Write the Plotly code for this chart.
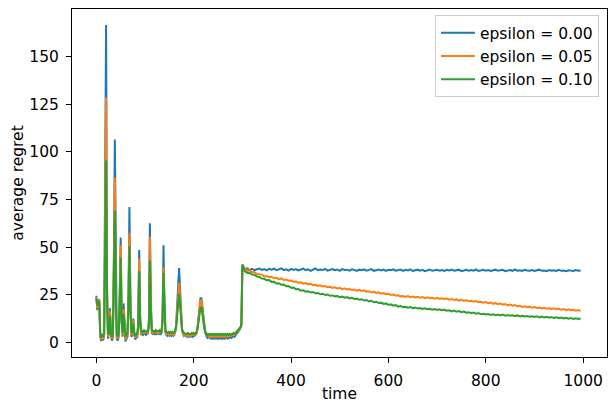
import plotly.graph_objects as go

# time steps: every 2 steps up to 298, then every 5 steps
time = list(range(0, 300, 2)) + list(range(300, 1000, 5))

eps_000_early = [
    24.5, 17.0, 22.0, 22.5, 3.0, 0.8, 2.0, 1.2, 3.5, 70, 166.5, 30, 2.0, 5.0, 18.0, 4.0, 1.0, 2.5, 40, 106.5,
    28, 2.0, 1.0, 3.0, 25, 55, 12, 3.0, 20.5, 5.0, 0.5, 2.0, 3.0, 25, 71, 22, 3.0, 4.0, 12.5, 4.0,
    1.5, 3.0, 2.5, 10, 48.5, 14, 4.0, 4.5, 4.0, 5.0, 4.5, 4.0, 5.0, 4.5, 12, 62.5, 22, 5.0, 4.5, 5.0,
    4.0, 5.5, 4.5, 5.0, 4.5, 5.0, 4.0, 5.0, 14, 51, 18, 5.0, 4.0, 3.5, 4.0, 3.5, 4.0, 3.5, 4.0, 3.5,
    4.0, 5.5, 10, 20, 34, 39, 28, 14, 7, 4.5, 3.5, 4.0, 3.5, 3.0, 3.5, 3.0, 3.5, 3.0, 3.5, 3.0,
    3.5, 3.5, 4.0, 5.0, 8.0, 14, 20, 23.5, 23, 18, 12, 7.5, 5.0, 3.5, 2.5, 3.0, 2.5, 3.0, 2.0, 2.5,
    2.0, 2.5, 2.0, 2.5, 2.0, 3.0, 2.0, 2.5, 2.0, 3.0, 2.0, 2.5, 2.0, 3.0, 2.5, 2.0, 3.0, 2.5, 3.0, 2.5,
    3.0, 3.5, 3.0, 4.0, 4.5, 5.0, 5.5, 6.5, 7.5, 9.0,
]
eps_005_early = [
    24.0, 18.0, 21.5, 22.0, 4.0, 1.5, 3.0, 2.0, 4.0, 58, 128.5, 25, 3.0, 5.5, 16.5, 5.0, 2.0, 3.5, 34, 86.5,
    24, 3.0, 2.0, 4.0, 23, 51, 11, 4.0, 17.5, 5.5, 1.5, 3.0, 4.0, 21, 57.5, 19, 4.0, 4.5, 11.5, 4.5,
    2.5, 3.5, 3.5, 9, 44, 12.5, 4.5, 5.0, 5.0, 5.5, 5.0, 5.0, 5.5, 5.0, 11, 55.5, 19, 5.5, 5.0, 5.5,
    5.0, 5.5, 5.0, 5.5, 5.0, 5.5, 5.0, 5.5, 12, 39.5, 15, 5.5, 4.5, 4.5, 4.5, 4.0, 4.5, 4.5, 4.5, 4.0,
    4.5, 5.5, 9, 17, 27, 31, 23, 12, 7, 5.0, 4.0, 4.5, 4.0, 3.5, 4.0, 3.5, 4.0, 3.5, 4.0, 4.0,
    4.0, 4.0, 4.5, 5.0, 8.0, 13, 19, 22.5, 22, 17, 11.5, 7.5, 5.5, 4.0, 3.5, 3.5, 3.0, 3.5, 3.0, 3.5,
    3.0, 3.5, 3.0, 3.5, 3.0, 3.5, 3.0, 3.5, 3.0, 3.5, 3.0, 3.5, 3.0, 3.5, 3.5, 3.0, 3.5, 3.5, 3.5, 3.5,
    4.0, 4.0, 4.0, 4.5, 5.0, 5.5, 6.0, 7.0, 8.0, 9.5,
]
eps_010_early = [
    23.0, 19.5, 21.0, 21.5, 5.0, 2.5, 4.0, 3.5, 5.0, 45, 95.5, 21, 4.0, 6.0, 14.0, 5.5, 3.0, 4.5, 28, 69,
    20, 4.0, 3.0, 5.0, 20, 44.5, 10, 5.0, 15.0, 6.0, 3.0, 4.0, 5.0, 18, 50.5, 17, 5.0, 5.5, 10.0, 5.0,
    3.5, 4.5, 4.5, 8, 37.5, 11, 5.5, 6.0, 5.5, 6.5, 6.0, 5.5, 6.0, 6.0, 9, 43, 16, 6.5, 6.0, 6.0,
    5.5, 6.5, 6.0, 6.0, 6.0, 6.5, 5.5, 6.0, 11, 36.5, 14, 6.0, 5.5, 5.0, 5.5, 5.0, 5.5, 5.0, 5.5, 5.0,
    5.5, 6.0, 8, 14.5, 22, 25.5, 19, 11, 7, 5.5, 5.0, 5.0, 4.5, 4.5, 5.0, 4.5, 4.5, 4.5, 5.0, 4.5,
    5.0, 4.5, 5.0, 5.5, 7.5, 11, 15.5, 18, 18.5, 14.5, 10, 7.0, 5.5, 4.5, 4.0, 4.5, 4.0, 4.5, 4.0, 4.5,
    4.0, 4.5, 4.0, 4.5, 4.0, 4.5, 4.0, 4.5, 4.0, 4.5, 4.0, 4.5, 4.0, 4.5, 4.0, 4.5, 4.0, 4.5, 4.0, 4.5,
    4.5, 5.0, 4.5, 5.0, 5.5, 6.0, 6.5, 7.0, 8.0, 9.5,
]

eps_000_late = [
    40.8, 38.5, 38.9, 38.0, 38.6, 37.9, 38.4, 38.8, 38.1, 38.5,
    37.8, 38.6, 38.2, 38.7, 37.9, 38.3, 38.9, 38.0, 38.4, 37.7, 38.6, 38.1, 38.5, 37.8, 38.3,
    38.7, 38.0, 38.4, 37.6, 38.2, 38.8, 37.9, 38.3, 38.0, 38.6, 37.7, 38.2, 38.5, 37.9,
    38.3, 37.6, 38.5, 38.0, 38.2, 37.7, 38.4, 38.1, 37.5, 38.2,
    37.9, 38.4, 37.7, 38.1, 38.5, 37.6, 38.0, 38.3, 37.8, 38.2, 37.5, 38.1, 37.9, 38.4, 37.7, 38.0, 38.3, 37.6,
    38.1, 37.8, 38.4, 37.5, 38.0, 38.2, 37.7, 38.1, 37.4, 38.0, 38.3, 37.6, 37.9, 38.2, 37.7, 38.0, 37.5,
    38.1, 37.8, 38.3, 37.6, 37.9, 38.2, 37.4, 37.9, 38.1, 37.6, 38.0, 37.7, 38.3, 37.5, 37.9, 38.1, 37.6,
    38.0, 37.5, 37.9, 38.2, 37.6, 37.8, 38.1, 37.4, 37.9, 38.0, 37.6, 38.3, 37.7, 37.9, 37.5, 38.1, 37.8, 37.6,
    38.0, 37.5, 37.9, 38.2, 37.6, 37.8, 37.4, 38.0, 37.7, 37.9, 37.5, 38.1, 37.6, 37.8, 37.4, 37.9, 37.7, 37.5,
    38.0, 37.6, 37.7,
]
eps_005_late = [
    40.8, 38.6, 37.7, 37.8, 36.8, 36.9, 35.9, 35.9, 35.6, 34.6,
    34.9, 34.2, 34.5, 33.7, 33.9, 33.2, 33.6, 32.8, 33.0, 32.4, 32.5, 31.9, 32.0, 31.3, 31.6,
    30.9, 31.2, 30.5, 30.8, 30.1, 30.3, 29.7, 30.0, 29.4, 29.6, 29.0, 29.2, 28.6, 28.9,
    28.4, 28.7, 28.0, 28.4, 27.8, 28.1, 27.5, 27.8, 27.2, 27.6,
    27.0, 27.4, 26.7, 26.9, 26.3, 26.6, 26.0, 26.3, 25.6, 25.9, 25.3, 25.5, 24.9, 25.2, 24.5, 24.8, 24.2, 24.4,
    23.9, 24.3, 23.8, 24.1, 23.6, 24.0, 23.5, 23.8, 23.3, 23.7, 23.2, 23.5, 23.0, 23.4, 22.9, 23.2, 22.8,
    23.1, 22.5, 22.8, 22.3, 22.6, 22.0, 22.4, 21.8, 22.2, 21.6, 21.9, 21.4, 21.7, 21.1, 21.4, 20.9, 21.2,
    20.6, 21.0, 20.3, 20.7, 20.1, 20.4, 19.8, 20.2, 19.5, 19.9, 19.3, 19.6, 19.0, 19.3, 18.7, 19.0, 18.5, 18.8,
    18.2, 18.6, 18.1, 18.4, 17.9, 18.2, 17.7, 18.0, 17.6, 17.9, 17.4, 17.7, 17.2, 17.5, 17.0, 17.4, 16.9, 17.2,
    16.7, 17.0, 16.6,
]
eps_010_late = [
    40.8, 37.4, 36.5, 36.4, 35.6, 35.5, 34.6, 34.4, 33.5, 33.4,
    32.6, 32.7, 31.8, 31.9, 31.0, 31.1, 30.3, 30.4, 29.5, 29.6, 28.7, 28.8, 27.9, 28.0, 27.2,
    27.4, 26.7, 26.9, 26.2, 26.5, 25.8, 26.0, 25.3, 25.6, 24.9, 25.2, 24.5, 24.7, 24.2,
    24.4, 23.8, 24.1, 23.5, 23.8, 23.1, 23.4, 22.8, 23.0, 22.4,
    22.7, 22.0, 22.3, 21.6, 21.9, 21.1, 21.4, 20.7, 20.9, 20.2, 20.5, 19.7, 20.0, 19.3, 19.6, 18.8, 19.1, 18.5,
    18.7, 18.2, 18.6, 18.0, 18.3, 17.8, 18.1, 17.6, 17.9, 17.4, 17.7, 17.2, 17.6, 17.1, 17.4, 16.9, 17.2,
    16.7, 16.9, 16.3, 16.7, 16.2, 16.5, 15.9, 16.2, 15.6, 15.9, 15.4, 15.7, 15.1, 15.4, 14.8, 15.1, 14.7,
    14.9, 14.5, 14.8, 14.3, 14.7, 14.2, 14.6, 14.1, 14.4, 14.0, 14.3, 13.8, 14.2, 13.7, 14.0, 13.6, 13.9, 13.5,
    13.8, 13.4, 13.7, 13.2, 13.6, 13.1, 13.5, 13.0, 13.3, 12.9, 13.2, 12.7, 13.1, 12.6, 13.0, 12.5, 12.8, 12.4,
    12.7, 12.3, 12.6,
]

series = [
    ("epsilon = 0.00", eps_000_early + eps_000_late, "#1f77b4"),
    ("epsilon = 0.05", eps_005_early + eps_005_late, "#ff7f0e"),
    ("epsilon = 0.10", eps_010_early + eps_010_late, "#2ca02c"),
]

FS = 15.5

fig = go.Figure()
for name, vals, col in series:
    fig.add_trace(go.Scatter(x=time, y=vals, mode="lines", name=name,
                             line=dict(color=col, width=2)))

axis = dict(showgrid=False, zeroline=False, showline=True, linecolor="black", linewidth=1,
            mirror=True, ticks="outside", ticklen=5, tickwidth=1, tickcolor="black",
            tickfont=dict(size=FS, color="black"), automargin=False, ticklabelstandoff=4)
fig.update_xaxes(axis, range=[-50, 1049], tickvals=[0, 200, 400, 600, 800, 1000],
                 title=dict(text="time", font=dict(size=FS, color="black"), standoff=7))
fig.update_yaxes(axis, range=[-7.6, 174.9], tickvals=[0, 25, 50, 75, 100, 125, 150],
                 title=dict(text="average regret", font=dict(size=FS, color="black"), standoff=1))

fig.update_layout(
    width=608, height=403,
    margin=dict(l=72, r=1, t=9, b=46),
    plot_bgcolor="white", paper_bgcolor="white",
    font=dict(family="DejaVu Sans", size=FS, color="black"),
    legend=dict(x=0.985, y=0.982, xanchor="right", yanchor="top",
                bordercolor="#cccccc", borderwidth=1, bgcolor="white",
                font=dict(size=FS), itemwidth=34),
    showlegend=True,
)
fig.write_html("out.html", config={"displayModeBar": False},
               post_script="document.body.style.margin='0';")
